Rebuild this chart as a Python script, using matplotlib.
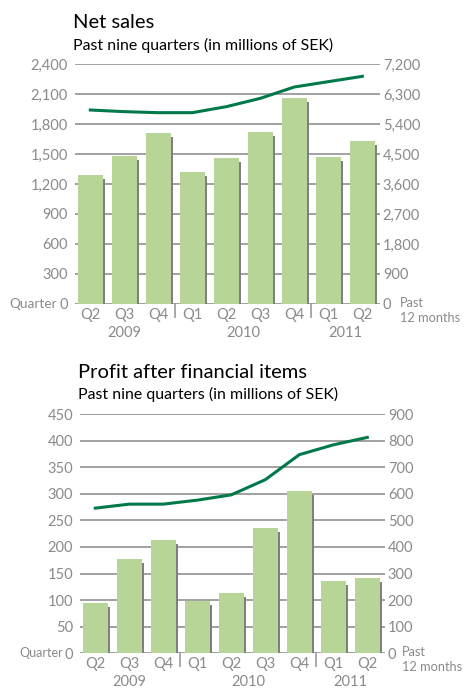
import matplotlib
matplotlib.use("Agg")
import matplotlib.pyplot as plt

plt.rcParams['font.family'] = ['Lato', 'DejaVu Sans']

# Data
quarters = ["Q2", "Q3", "Q4", "Q1", "Q2", "Q3", "Q4", "Q1", "Q2"]
years = ["2009", "2010", "2011"]
year_pos = [1, 4.5, 7.5]
sep_pos = [2.5, 6.5]

sales_q = [1290, 1480, 1710, 1320, 1460, 1720, 2060, 1470, 1630]
sales_12m = [5820, 5770, 5740, 5740, 5920, 6170, 6510, 6670, 6830]

profit_q = [94, 177, 213, 98, 113, 235, 306, 136, 141]
profit_12m = [546, 561, 561, 576, 596, 653, 747, 784, 812]

sales_left = [0, 300, 600, 900, 1200, 1500, 1800, 2100, 2400]
sales_right = [0, 900, 1800, 2700, 3600, 4500, 5400, 6300, 7200]
profit_left = [0, 50, 100, 150, 200, 250, 300, 350, 400, 450]
profit_right = [0, 100, 200, 300, 400, 500, 600, 700, 800, 900]

BAR = "#b8d598"
SHADOW = "#7f7f7f"
LINE = "#00794a"
GRID = "#9a9a9a"
TXT = "#8a8a8a"

W, H = 465, 689
fig = plt.figure(figsize=(W / 100, H / 100), dpi=100)


def panel(x0, x1, ytop, ybot, bars, line, lticks, rticks, title, title_y, qx, qsize, px):
    ax = fig.add_axes([x0 / W, 1 - ybot / H, (x1 - x0) / W, (ybot - ytop) / H])
    x = list(range(len(bars)))
    ax.bar([i + 0.06 for i in x], [b - 4 * lticks[-1] / 240 for b in bars],
           width=0.74, color=SHADOW, zorder=2)
    ax.bar(x, bars, width=0.74, color=BAR, zorder=3)
    ax.set_xlim(-0.45, 8.52)
    ax.set_ylim(0, lticks[-1])
    ax.set_yticks(lticks)
    ax.set_yticklabels([f"{v:,}" for v in lticks])
    ax.grid(axis="y", color=GRID, lw=1.3, zorder=1)
    for s in ax.spines.values():
        s.set_visible(False)
    ax.tick_params(axis="y", length=0, pad=5, labelsize=10.5, labelcolor=TXT)
    ax.set_xticks(x)
    ax.set_xticklabels(quarters)
    ax.tick_params(axis="x", length=0, pad=3, labelsize=10.5, labelcolor=TXT)
    tr = ax.get_xaxis_transform()
    for p in sep_pos:
        ax.plot([p, p], [0, -0.055], transform=tr, color=GRID, lw=1.2, clip_on=False)
    for p, yr in zip(year_pos, years):
        ax.text(p, -0.12, yr, transform=tr, ha="center", va="center",
                fontsize=10.5, color=TXT)
    ax.text(qx, 0, "Quarter", transform=tr, ha="right", va="center",
            fontsize=qsize, color=TXT)

    ax2 = ax.twinx()
    ax2.plot(x, line, color=LINE, lw=2.2, zorder=5)
    ax2.set_ylim(0, rticks[-1])
    ax2.set_yticks(rticks)
    ax2.set_yticklabels([f"{v:,}" for v in rticks])
    ax2.tick_params(axis="y", length=0, pad=2, labelsize=10.5, labelcolor=TXT)
    for s in ax2.spines.values():
        s.set_visible(False)
    ax2.text(px, 0.03, "Past\n12 months", transform=ax2.transAxes, ha="left",
             va="top", fontsize=9.2, color=TXT, linespacing=1.3)
    ax2.set_zorder(ax.get_zorder() + 1)
    ax2.patch.set_visible(False)

    fig.text(x0 / W - 0.004, 1 - title_y / H, title, fontsize=14.5,
             color="black", va="center", ha="left")
    fig.text(x0 / W - 0.004, 1 - (title_y + 22) / H,
             "Past nine quarters (in millions of SEK)", fontsize=11.4,
             color="black", va="center", ha="left")
    return ax


panel(75, 380, 64, 304, sales_q, sales_12m, sales_left, sales_right,
      "Net sales", 23, -0.98, 9.8, 1.064)
panel(80, 385, 414, 653.3, profit_q, profit_12m, profit_left, profit_right,
      "Profit after financial items", 372, -0.95, 9.0, 1.055)

fig.savefig("out.png", dpi=100)
